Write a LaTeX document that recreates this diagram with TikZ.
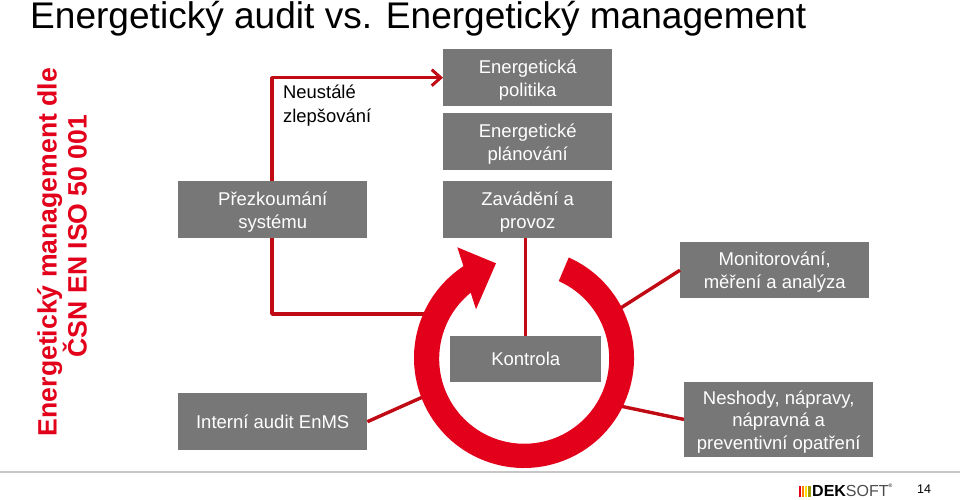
\documentclass[tikz,border=0pt]{standalone}
\usepackage{fontspec}
\setmainfont{Liberation Sans}
\usetikzlibrary{arrows.meta}
\definecolor{boxgrey}{HTML}{777777}
\definecolor{ringred}{HTML}{E2001A}
\definecolor{linered}{HTML}{C00A14}
\newcommand{\pxfont}[2]{\fontsize{#1pt}{#2pt}\selectfont}
\newcommand{\topstrut}{\rule{0pt}{18.2pt}}
\tikzset{
  x=1pt,y=1pt,
  greybox/.style={fill=boxgrey,text=white,align=center,inner sep=0pt,anchor=north west,font=\pxfont{18.5}{23}},
  redline/.style={draw=linered,line width=3.4pt},
  plaintext/.style={inner sep=0pt,align=center}
}
\begin{document}
\begin{tikzpicture}[x=1pt,y=1pt]
\useasboundingbox (0,0) rectangle (960,500);
% coordinates: x = px, y = 500 - py
\node[plaintext,anchor=base west] (title) at (30,471.5) {\pxfont{37.07}{40}Energetický audit vs. Energetický management};
\node[plaintext,rotate=90,text=ringred,font=\pxfont{26.6}{30}\bfseries] (side) at (62,248) {Energetický management dle\\\hspace*{32pt}ČSN EN ISO 50 001};

\node[greybox,minimum width=189pt,minimum height=57pt] (review) at (178,319) {\topstrut Přezkoumání\\systému};
\node[greybox,minimum width=189pt,minimum height=57pt] (audit) at (178,107) {Interní audit EnMS};
\node[greybox,minimum width=169pt,minimum height=57pt] (policy) at (443,451) {\topstrut Energetická\\politika};
\node[greybox,minimum width=169pt,minimum height=57pt] (plan) at (443,387) {\topstrut Energetické\\plánování};
\node[greybox,minimum width=169pt,minimum height=57pt] (impl) at (443,319) {\topstrut Zavádění a\\provoz};
\node[greybox,minimum width=151pt,minimum height=45.5pt] (check) at (450,164) {Kontrola};
\node[greybox,minimum width=189pt,minimum height=56pt] (mon) at (680,258) {\topstrut Monitorování,\\měření a analýza};
\node[greybox,minimum width=189pt,minimum height=75.5pt,font=\pxfont{18.5}{22.5}] (nc) at (684,118.5) {\topstrut Neshody, nápravy,\\nápravná a\\preventivní opatření};

\node[plaintext,anchor=north west,align=left,font=\pxfont{18.4}{24}] (cont) at (283,415) {Neustálé\\zlepšování};

\coordinate (ringA) at (424,186);
\coordinate (ringB) at (425,104);
\coordinate (ringC) at (618,190.3);
\coordinate (ringD) at (620,94);
\coordinate (revTop) at (272,319);
\coordinate (revBot) at (272,262);

\draw[redline,line join=round,-{Straight Barb[length=9pt,width=16pt,line width=3pt]}] (revTop) -- (272,422.3) -- (policy.west |- 272,422.3);
\draw[redline,line join=round] (revBot) -- (272,186) -- (ringA);
\draw[redline] (audit.east) -- (ringB);
\draw[redline] (mon.west) -- (ringC);
\draw[redline] (nc.west) -- (ringD);
\draw[redline] (check.north |- impl.south) -- (check.north);

% ring with arrowhead
\fill[ringred] (524,142) ++(66:110) arc[start angle=66,end angle=-236.6,radius=110]
  -- (457.3,252.7) -- (496,236.7) -- (476,190.7) -- (470.7,207.3)
  arc[start angle=-231,end angle=66,radius=85] -- cycle;
\node[greybox,minimum width=151pt,minimum height=45.5pt] at (450,164) {Kontrola};

% footer
\fill[black!22] (0,26.5) rectangle (960,29);
\fill[ringred] (799,3) rectangle (801.3,14);
\fill[orange] (802,3) rectangle (804.3,14);
\fill[yellow!85!orange] (805,3) rectangle (807.3,14);
\fill[olive!80!yellow] (808,3) rectangle (810.5,14);
\node[plaintext,anchor=base west,font=\pxfont{16}{16}] (logo) at (812,3.5) {\textbf{DEK}\textcolor{black!70}{SOFT}};
\node[plaintext,anchor=base west,font=\pxfont{5}{5}] (reg) at (888.5,12) {®};
\node[plaintext,anchor=base,font=\pxfont{12.5}{13}] (page) at (924,6) {14};
\end{tikzpicture}
\end{document}
